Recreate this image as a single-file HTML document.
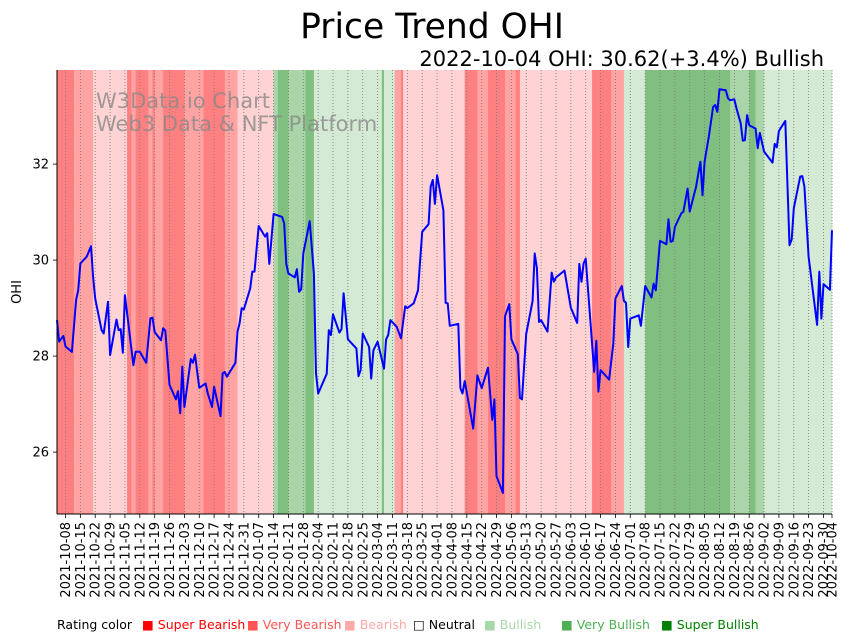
<!DOCTYPE html>
<html><head><meta charset="utf-8"><style>
body{margin:0;background:#fff;width:851px;height:641px;overflow:hidden;font-family:"Liberation Sans","DejaVu Sans",sans-serif}
svg{position:absolute;left:0;top:0}
</style></head><body>
<svg id="c" width="851" height="641">
<text x="432" y="38" text-anchor="middle" font-size="34.5" font-family="DejaVu Sans, sans-serif">Price Trend OHI</text>
<text x="824" y="66" text-anchor="end" font-size="21" font-family="DejaVu Sans, sans-serif">2022-10-04 OHI: 30.62(+3.4%) Bullish</text>
<g id="bands"></g>
<g id="grid"></g>
<text x="96" y="108" font-size="21" fill="#888" fill-opacity="0.8" font-family="DejaVu Sans, sans-serif">W3Data.io Chart</text>
<text x="96" y="131" font-size="21" fill="#888" fill-opacity="0.8" font-family="DejaVu Sans, sans-serif">Web3 Data &amp; NFT Platform</text>
<path id="line" fill="none" stroke="#0000ff" stroke-width="2" stroke-linejoin="round"/>
<g id="axes"></g>
<text transform="translate(21,292) rotate(-90)" text-anchor="middle" font-size="13" font-family="DejaVu Sans, sans-serif">OHI</text>
<g id="legend" font-size="12.5" font-family="DejaVu Sans, sans-serif"></g>
</svg>
<script>
const days=[0,1,3,4,7,9,10,11,14,16,17,18,21,22,24,25,28,29,30,31,32,36,37,39,42,44,45,46,49,50,51,53,56,57,58,59,60,63,64,65,67,70,71,73,74,77,78,79,80,84,85,86,87,88,91,92,93,95,98,99,100,102,106,107,108,109,112,113,114,115,116,119,121,122,123,127,128,129,130,133,134,135,137,141,142,143,144,147,148,149,151,154,155,156,157,160,162,164,165,168,170,172,175,176,177,178,179,182,183,184,185,189,190,191,192,196,198,200,203,205,206,207,210,211,213,214,217,218,219,221,224,225,226,227,228,231,233,234,235,239,242,245,246,247,248,249,253,254,255,256,260,262,263,266,267,268,269,270,274,275,277,280,281,282,284,287,288,289,290,291,294,295,297,298,301,303,304,305,307,309,310,311,312,315,316,317,319,320,322,323,324,325,326,329,330,331,333,337,338,339,340,343,345,346,347,350,351,352,354,358,359,360,361,364,365];
const values=[28.75,28.3,28.42,28.2,28.09,29.17,29.37,29.93,30.07,30.29,29.65,29.2,28.54,28.47,29.13,28.02,28.76,28.54,28.56,28.07,29.27,27.81,28.09,28.09,27.86,28.79,28.8,28.5,28.33,28.58,28.53,27.4,27.1,27.27,26.81,27.78,26.94,27.94,27.86,28.03,27.34,27.43,27.22,26.94,27.36,26.75,27.64,27.67,27.57,27.86,28.51,28.68,29,28.97,29.41,29.76,29.76,30.71,30.49,30.56,29.92,30.96,30.9,30.76,29.92,29.72,29.64,29.81,29.34,29.39,30.14,30.81,29.72,27.64,27.22,27.63,28.54,28.44,28.87,28.49,28.56,29.31,28.35,28.16,27.58,27.71,28.47,28.19,27.53,28.12,28.3,27.74,28.35,28.44,28.75,28.61,28.37,29.04,29.0,29.1,29.37,30.59,30.75,31.53,31.67,31.17,31.77,31.04,29.11,29.1,28.63,28.67,27.33,27.22,27.48,26.49,27.6,27.33,27.76,26.67,27.1,25.5,25.15,28.83,29.08,28.35,28.04,27.13,27.1,28.46,29.15,30.14,29.83,28.71,28.75,28.51,29.74,29.55,29.64,29.78,29.01,28.69,29.92,29.55,29.93,30.03,27.67,28.32,27.26,27.71,27.51,28.26,29.2,29.46,29.15,29.11,28.19,28.78,28.85,28.63,29.46,29.22,29.51,29.37,30.4,30.33,30.85,30.38,30.4,30.69,30.97,31.01,31.49,31.01,31.53,32.05,31.35,32.05,32.57,33.19,33.23,33.09,33.56,33.54,33.37,33.33,33.35,33.16,32.85,32.49,32.5,33.02,32.81,32.74,32.33,32.65,32.26,32.03,32.42,32.35,32.69,32.9,30.31,30.43,31.08,31.74,31.75,31.53,30.07,28.65,29.76,28.78,29.5,29.38,30.62];
const bandStarts=[0,8,17,33,35,37,43,45,46,50,60,69,79,85,102,104,109,117,121,153,154,159,162,163,192,198,203,211,216,218,252,261,267,277,317,326,329,333];
const bandRatings=[-3,-2,-1,-3,-2,-3,-2,-3,-2,-3,-2,-3,-2,-1,2,3,2,3,1,3,1,-2,-3,-1,-3,-2,-3,-2,-3,-1,-3,-2,1,3,2,3,2,1];
const yTicks=[26,28,30,32];
const legendLabels=["Super Bearish","Very Bearish","Bearish","Neutral","Bullish","Very Bullish","Super Bullish"];
const legendColors=["#ff0000","#ff5555","#ffaaaa","#000000","#a8d8a8","#4caf50","#008000"];
const legendX=[142,247,344,413,484,561,661];

const X0=57,X1=832,Y0=70,Y1=514,D0=0,D1=365,V0=24.71,V1=33.96;
const xs=d=>X0+(d-D0)/(D1-D0)*(X1-X0);
const ys=v=>Y1-(v-V0)/(V1-V0)*(Y1-Y0);
const NS="http://www.w3.org/2000/svg";
function mk(tag,attrs,parent){const e=document.createElementNS(NS,tag);for(const k in attrs)e.setAttribute(k,attrs[k]);parent.appendChild(e);return e;}
const bandColor={"-3":"#ff8080","-2":"#ffa3a3","-1":"#ffd3d3","0":"#ffffff","1":"#d4ead4","2":"#a9d5a9","3":"#80bf80"};
const gB=document.getElementById('bands');
bandStarts.forEach((s,i)=>{const e=i+1<bandStarts.length?bandStarts[i+1]:D1;
 const r=mk('rect',{x:xs(s),y:Y0,width:xs(e)-xs(s)+0.3,height:Y1-Y0,fill:bandColor[bandRatings[i]]},gB);
 
 });
const start=new Date(Date.UTC(2021,9,4));
const tickDays=[];for(let d=4;d<=361;d+=7)tickDays.push(d);tickDays.push(365);
const fmt=d=>{const t=new Date(start.getTime()+d*864e5);return t.toISOString().slice(0,10);};
const gG=document.getElementById('grid'),gA=document.getElementById('axes');
tickDays.forEach(d=>{const x=xs(d);
 const l=mk('line',{x1:x,x2:x,y1:Y0,y2:Y1,stroke:'#777','stroke-width':0.8,'stroke-dasharray':'1,2'},gG);
 
 
 mk('line',{x1:x,x2:x,y1:Y1,y2:Y1+4,stroke:'#000','stroke-width':0.8},gA);
 const t=mk('text',{transform:`translate(${x+4.5},${Y1+8}) rotate(-90)`,'text-anchor':'end','font-size':13,'font-family':'DejaVu Sans, sans-serif'},gA);
 t.textContent=fmt(d);
 
 });
yTicks.forEach(v=>{const y=ys(v);
 mk('line',{x1:X0-4,x2:X0,y1:y,y2:y,stroke:'#000','stroke-width':0.8},gA);
 const t=mk('text',{x:X0-8,y:y+4.5,'text-anchor':'end','font-size':13,'font-family':'DejaVu Sans, sans-serif'},gA);
 t.textContent=v;
 
 });
mk('line',{x1:X0,x2:X0,y1:Y0,y2:Y1,stroke:'#000','stroke-width':1},gA);
mk('line',{x1:X0,x2:X1,y1:Y1,y2:Y1,stroke:'#000','stroke-width':1},gA);
document.getElementById('line').setAttribute('d',days.map((d,i)=>(i?'L':'M')+xs(d).toFixed(1)+','+ys(values[i]).toFixed(1)).join(''));
const gL=document.getElementById('legend');
const lt=mk('text',{x:57,y:629},gL);lt.textContent='Rating color';


legendLabels.forEach((lab,i)=>{
 const t=mk('text',{x:legendX[i],y:629,fill:i==3?'#000':legendColors[i]},gL);
 t.textContent=(i==3?'□ ':'■ ')+lab;
 
 });
</script>
</body></html>
